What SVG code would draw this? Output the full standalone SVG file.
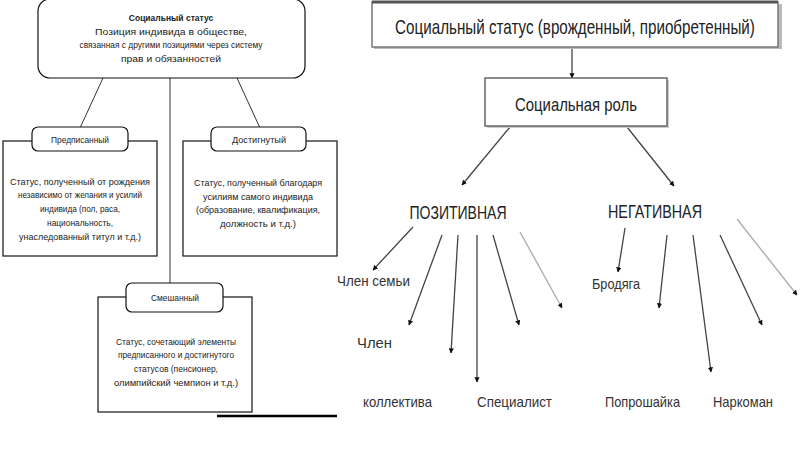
<svg xmlns="http://www.w3.org/2000/svg" width="800" height="450" viewBox="0 0 800 450">
<style>
text{font-family:"Liberation Sans",Arial,sans-serif;fill:#222}
.s{font-size:8.5px;text-anchor:middle}
.b{font-weight:bold}
.box{fill:#fff;stroke:#111;stroke-width:1.2}
.ln{stroke:#333;stroke-width:1;fill:none}
.r{font-size:19px}
.lbl{font-size:15px;fill:#333}
.ar{stroke:#444;stroke-width:1.3;fill:none;marker-end:url(#ah)}
.al{stroke:#aaa;stroke-width:1.3;fill:none;marker-end:url(#ah)}
</style>
<defs>
<marker id="ah" viewBox="0 0 10 10" refX="9" refY="5" markerWidth="4" markerHeight="4" orient="auto" markerUnits="strokeWidth">
<path d="M0,0 L10,5 L0,10 z" fill="#111"/>
</marker>
</defs>
<rect width="800" height="450" fill="#fff"/>

<g id="connectors">
<line class="ln" x1="103" y1="78" x2="80" y2="128"/>
<line class="ln" x1="170" y1="78" x2="170" y2="283"/>
<line class="ln" x1="237" y1="78" x2="260" y2="128"/>
<line x1="217" y1="416" x2="337" y2="416" stroke="#000" stroke-width="2.5"/>
<line class="ar" x1="572" y1="48" x2="572" y2="78"/>
<line class="ar" x1="510" y1="127" x2="462" y2="185"/>
<line class="ar" x1="627" y1="127" x2="674" y2="186"/>
<line class="ar" x1="413" y1="227" x2="373" y2="270"/>
<line class="ar" x1="442" y1="235" x2="409" y2="325"/>
<line class="ar" x1="458" y1="235" x2="451" y2="353"/>
<line class="ar" x1="477" y1="235" x2="477" y2="382"/>
<line class="ar" x1="493" y1="235" x2="519" y2="325"/>
<line class="al" x1="520" y1="232" x2="562" y2="308"/>
<line class="ar" x1="625" y1="228" x2="618" y2="272"/>
<line class="ar" x1="667" y1="235" x2="659" y2="308"/>
<line class="ar" x1="693" y1="235" x2="711" y2="372"/>
<line class="ar" x1="720" y1="235" x2="762" y2="325"/>
<line class="al" x1="737" y1="219" x2="797" y2="295"/>
</g>

<g id="status">
<rect class="box" x="38" y="-1" width="267" height="79" rx="12"/>
<text class="s b" x="171" y="21" font-size="9">Социальный статус</text>
<text class="s" x="171" y="35" textLength="152" lengthAdjust="spacingAndGlyphs">Позиция индивида в обществе,</text>
<text class="s" x="171" y="48" textLength="183" lengthAdjust="spacingAndGlyphs">связанная с другими позициями через систему</text>
<text class="s" x="171" y="62" textLength="100" lengthAdjust="spacingAndGlyphs">прав и обязанностей</text>
</g>

<g id="prescribed">
<rect class="box" x="3" y="141" width="154" height="115"/>
<rect class="box" x="32" y="127" width="96" height="24" rx="6"/>
<text class="s" x="80" y="143" textLength="58" lengthAdjust="spacingAndGlyphs">Предписанный</text>
<text class="s" x="80" y="185" textLength="140" lengthAdjust="spacingAndGlyphs">Статус, полученный от рождения</text>
<text class="s" x="80" y="198" textLength="124" lengthAdjust="spacingAndGlyphs">независимо от желания и усилий</text>
<text class="s" x="80" y="212" textLength="80" lengthAdjust="spacingAndGlyphs">индивида (пол, раса,</text>
<text class="s" x="80" y="226" textLength="66" lengthAdjust="spacingAndGlyphs">национальность,</text>
<text class="s" x="80" y="240" textLength="122" lengthAdjust="spacingAndGlyphs">унаследованный титул и т.д.)</text>
</g>

<g id="achieved">
<rect class="box" x="183" y="141" width="154" height="115"/>
<rect class="box" x="211" y="127" width="95" height="24" rx="6"/>
<text class="s" x="259" y="143" textLength="54" lengthAdjust="spacingAndGlyphs">Достигнутый</text>
<text class="s" x="258" y="186" textLength="128" lengthAdjust="spacingAndGlyphs">Статус, полученный благодаря</text>
<text class="s" x="258" y="200" textLength="110" lengthAdjust="spacingAndGlyphs">усилиям самого индивида</text>
<text class="s" x="258" y="213" textLength="124" lengthAdjust="spacingAndGlyphs">(образование, квалификация,</text>
<text class="s" x="258" y="227" textLength="76" lengthAdjust="spacingAndGlyphs">должность и т.д.)</text>
</g>

<g id="mixed">
<rect class="box" x="98" y="297" width="154" height="115"/>
<rect class="box" x="126" y="283" width="97" height="29" rx="6"/>
<text class="s" x="175" y="301" textLength="48" lengthAdjust="spacingAndGlyphs">Смешанный</text>
<text class="s" x="176" y="345" textLength="120" lengthAdjust="spacingAndGlyphs">Статус, сочетающий элементы</text>
<text class="s" x="176" y="358" textLength="116" lengthAdjust="spacingAndGlyphs">предписанного и достигнутого</text>
<text class="s" x="176" y="372" textLength="84" lengthAdjust="spacingAndGlyphs">статусов (пенсионер,</text>
<text class="s" x="176" y="386" textLength="124" lengthAdjust="spacingAndGlyphs">олимпийский чемпион и т.д.)</text>
</g>

<g id="status2">
<rect x="374" y="4" width="408" height="45" fill="#bbb"/>
<rect x="372" y="2" width="406" height="45" fill="#fff" stroke="#777" stroke-width="1.5"/>
<line x1="372" y1="2" x2="778" y2="2" stroke="#555" stroke-width="3"/>
<text transform="translate(575,34) scale(0.95,1.25)" x="0" y="0" font-size="16" text-anchor="middle">Социальный статус (врожденный, приобретенный)</text>
</g>

<g id="role">
<rect x="487" y="80" width="182" height="48" fill="#ccc"/>
<rect x="485" y="78" width="182" height="48" fill="#fff" stroke="#666" stroke-width="1.5"/>
<text class="r" x="576" y="111" text-anchor="middle" textLength="122" lengthAdjust="spacingAndGlyphs">Социальная роль</text>
</g>

<g id="positive"><text x="458" y="219" font-size="19" text-anchor="middle" textLength="97" lengthAdjust="spacingAndGlyphs">ПОЗИТИВНАЯ</text></g>
<g id="negative"><text x="655" y="218" font-size="19" text-anchor="middle" textLength="94" lengthAdjust="spacingAndGlyphs">НЕГАТИВНАЯ</text></g>

<g id="family"><text class="lbl" x="337" y="286" textLength="73" lengthAdjust="spacingAndGlyphs">Член семьи</text></g>
<g id="member"><text class="lbl" x="357" y="348" textLength="35" lengthAdjust="spacingAndGlyphs">Член</text></g>
<g id="collective"><text class="lbl" x="363" y="407" textLength="69" lengthAdjust="spacingAndGlyphs">коллектива</text></g>
<g id="specialist"><text class="lbl" x="477" y="407" textLength="75" lengthAdjust="spacingAndGlyphs">Специалист</text></g>
<g id="tramp"><text class="lbl" x="592" y="289" textLength="48" lengthAdjust="spacingAndGlyphs">Бродяга</text></g>
<g id="beggar"><text class="lbl" x="605" y="407" textLength="75" lengthAdjust="spacingAndGlyphs">Попрошайка</text></g>
<g id="addict"><text class="lbl" x="713" y="407" textLength="60" lengthAdjust="spacingAndGlyphs">Наркоман</text></g>
</svg>
